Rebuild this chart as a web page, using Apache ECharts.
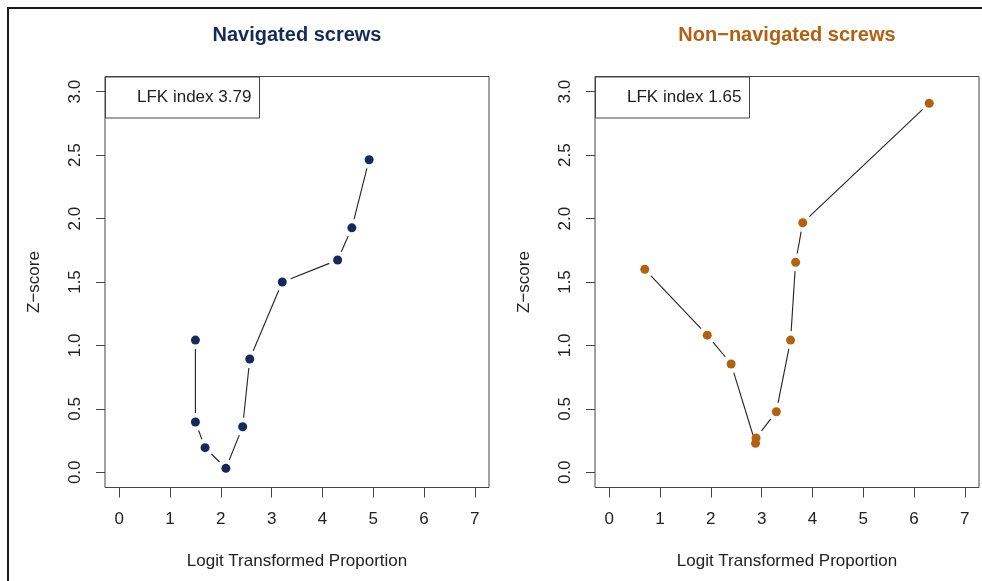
<!DOCTYPE html>
<html>
<head>
<meta charset="utf-8">
<title>Navigated vs non-navigated screws – Doi plots</title>
<script src="https://cdn.jsdelivr.net/npm/echarts@6/dist/echarts.min.js"></script>
<style>
  html, body { margin: 0; padding: 0; background: #ffffff; }
  #chart { width: 982px; height: 581px; }
</style>
</head>
<body>
<div id="chart"></div>
<script>
// Doi plot data: logit transformed proportion (x) against Z-score (y)
const navX = [1.50, 1.50, 1.69, 2.10, 2.43, 2.57, 3.21, 4.30, 4.58, 4.92];
const navY = [1.042, 0.396, 0.194, 0.031, 0.359, 0.893, 1.500, 1.673, 1.927, 2.464];

const nonNavX = [0.70, 1.93, 2.40, 2.88, 2.89, 3.29, 3.57, 3.67, 3.81, 6.30];
const nonNavY = [1.600, 1.081, 0.854, 0.228, 0.270, 0.477, 1.042, 1.655, 1.967, 2.909];

const panelTitles = ['Navigated screws', 'Non\u2212navigated screws'];
const lfkIndex = [3.79, 1.65];

const xTicks = [0, 1, 2, 3, 4, 5, 6, 7];
const yTicks = [0, 0.5, 1.0, 1.5, 2.0, 2.5, 3.0];

const xAxisName = 'Logit Transformed Proportion';
const yAxisName = 'Z\u2212score';

const navyColor = '#15295a';
const orangeColor = '#b3600f';
const inkColor = '#222222';
const frameColor = '#444444';
const FONT = "'Liberation Sans', Arial, Helvetica, sans-serif";

// axis ranges padded by 4% on both sides, as in base R plots
const xMin = -0.28, xMax = 7.28;
const yMin = -0.12, yMax = 3.12;

const grids = [
  { left: 105, top: 76.5, width: 384, height: 411 },
  { left: 595, top: 76.5, width: 384, height: 411 }
];

function toPairs(xs, ys) {
  return xs.map((x, i) => [x, ys[i]]);
}

function toSegments(xs, ys) {
  const segs = [];
  for (let i = 0; i < xs.length - 1; i++) {
    segs.push([xs[i], ys[i], xs[i + 1], ys[i + 1]]);
  }
  return segs;
}

// connecting lines that stop short of each point (type "b" style)
const GAP = 9;
function renderGappedSegment(params, api) {
  const p1 = api.coord([api.value(0), api.value(1)]);
  const p2 = api.coord([api.value(2), api.value(3)]);
  const dx = p2[0] - p1[0];
  const dy = p2[1] - p1[1];
  const len = Math.sqrt(dx * dx + dy * dy);
  if (len <= 2 * GAP + 1) return null;
  const ux = dx / len, uy = dy / len;
  return {
    type: 'line',
    shape: {
      x1: p1[0] + ux * GAP, y1: p1[1] + uy * GAP,
      x2: p2[0] - ux * GAP, y2: p2[1] - uy * GAP
    },
    style: { stroke: inkColor, lineWidth: 1.1 }
  };
}

function makeXAxis(gridIndex) {
  return {
    type: 'value', gridIndex, min: xMin, max: xMax,
    name: xAxisName, nameLocation: 'middle', nameGap: 65,
    nameTextStyle: { fontFamily: FONT, fontSize: 17, color: inkColor },
    axisLine: { show: false, onZero: false },
    axisTick: { show: true, customValues: xTicks, length: 10, lineStyle: { color: frameColor, width: 1 } },
    axisLabel: { customValues: xTicks, margin: 23, fontFamily: FONT, fontSize: 17, color: inkColor },
    splitLine: { show: false }
  };
}

function makeYAxis(gridIndex) {
  return {
    type: 'value', gridIndex, min: yMin, max: yMax,
    name: yAxisName, nameLocation: 'middle', nameGap: 62, nameRotate: 90,
    nameTextStyle: { fontFamily: FONT, fontSize: 17, color: inkColor },
    axisLine: { show: false, onZero: false },
    axisTick: { show: true, customValues: yTicks, length: 9, lineStyle: { color: frameColor, width: 1 } },
    axisLabel: {
      customValues: yTicks, rotate: 90, margin: 21,
      fontFamily: FONT, fontSize: 17, color: inkColor,
      formatter: v => v.toFixed(1)
    },
    splitLine: { show: false }
  };
}

function panelSeries(xs, ys, color, idx) {
  return [
    {
      type: 'custom', xAxisIndex: idx, yAxisIndex: idx,
      data: toSegments(xs, ys),
      encode: { x: [0, 2], y: [1, 3] },
      renderItem: renderGappedSegment,
      silent: true, z: 2
    },
    {
      type: 'scatter', xAxisIndex: idx, yAxisIndex: idx,
      data: toPairs(xs, ys),
      symbol: 'circle', symbolSize: 9,
      itemStyle: { color: color, opacity: 1 },
      silent: true, z: 3
    }
  ];
}

// panel titles and LFK boxes
function panelDecor(i, color) {
  const g = grids[i];
  return [
    {
      type: 'text', x: g.left + g.width / 2, y: 35.5,
      style: {
        text: panelTitles[i], fill: color, fontFamily: FONT,
        fontSize: 20, fontWeight: 'bold', align: 'center', verticalAlign: 'middle'
      }
    },
    {
      type: 'rect', shape: { x: g.left + 0.5, y: g.top + 0.5, width: 154, height: 41 },
      style: { fill: '#ffffff', stroke: frameColor, lineWidth: 1 }, z: 10
    },
    {
      type: 'text', x: g.left + 32, y: g.top + 21,
      style: {
        text: 'LFK index ' + lfkIndex[i].toFixed(2), fill: inkColor, fontFamily: FONT,
        fontSize: 17, align: 'left', verticalAlign: 'middle'
      }, z: 11
    }
  ];
}

const chart = echarts.init(document.getElementById('chart'), null, { renderer: 'canvas' });

chart.setOption({
  animation: false,
  backgroundColor: '#ffffff',
  grid: grids.map(g => Object.assign({
    show: true, borderColor: frameColor, borderWidth: 1, backgroundColor: 'transparent',
    containLabel: false
  }, g)),
  xAxis: [makeXAxis(0), makeXAxis(1)],
  yAxis: [makeYAxis(0), makeYAxis(1)],
  series: [].concat(
    panelSeries(navX, navY, navyColor, 0),
    panelSeries(nonNavX, nonNavY, orangeColor, 1)
  ),
  graphic: [
    {
      type: 'polyline',
      shape: { points: [[8, 581], [8, 8], [982, 8]] },
      style: { stroke: '#1a1a1a', lineWidth: 2, fill: null }
    }
  ].concat(panelDecor(0, navyColor), panelDecor(1, orangeColor))
});
</script>
</body>
</html>
